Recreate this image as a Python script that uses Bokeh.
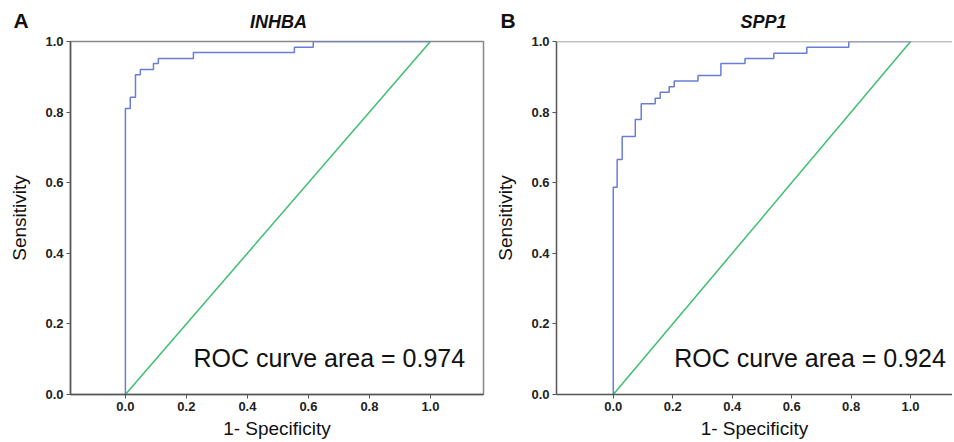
from bokeh.plotting import figure
from bokeh.layouts import row, column
from bokeh.models import Label, Span, FixedTicker, Range1d
from bokeh.core.properties import value
from bokeh.embed import file_html
from bokeh.resources import INLINE

# ---- data ----
inhba_fpr = [0.0, 0.0, 0.016, 0.033, 0.049, 0.092, 0.108, 0.223, 0.554, 0.616, 1.0]
inhba_tpr = [0.0, 0.810, 0.842, 0.906, 0.921, 0.938, 0.952, 0.969, 0.984, 1.0, 1.0]
inhba_auc = 0.974

spp1_fpr = [0.0, 0.0, 0.013, 0.030, 0.074, 0.094, 0.141, 0.158, 0.188, 0.205,
            0.285, 0.362, 0.443, 0.540, 0.651, 0.792, 1.0]
spp1_tpr = [0.0, 0.587, 0.666, 0.731, 0.779, 0.824, 0.839, 0.856, 0.872, 0.888,
            0.904, 0.938, 0.952, 0.967, 0.984, 1.0, 1.0]
spp1_auc = 0.924

ref_x = [0.0, 1.0]
ref_y = [0.0, 1.0]
ticks = [0.0, 0.2, 0.4, 0.6, 0.8, 1.0]
tick_labels = {t: f"{t:.1f}" for t in ticks}

FONT = "Liberation Sans"
BLUE = "#6a7dd6"
GREEN = "#3cbf6e"
AXIS = "#555555"
HEAD_H = 31


def staircase(fx, ty):
    xs, ys = [fx[0]], [ty[0]]
    for i in range(1, len(fx)):
        xs += [fx[i], fx[i]]
        ys += [ty[i - 1], ty[i]]
    return xs, ys


def header(letter, gene, width, letter_x, gene_x):
    h = figure(width=width, height=HEAD_H, x_range=Range1d(0, width), y_range=Range1d(0, HEAD_H),
               output_backend="svg", toolbar_location=None, title=None,
               x_axis_location=None, y_axis_location=None,
               min_border_left=0, min_border_right=0, min_border_top=0, min_border_bottom=0)
    h.grid.visible = False
    h.outline_line_color = None
    h.text(x=[letter_x], y=[HEAD_H - 20], text=[letter], text_baseline="middle",
           text_font=value(FONT), text_font_size="21px", text_font_style="bold", text_color="#111111")
    h.text(x=[gene_x], y=[HEAD_H - 21], text=[gene], text_align="center", text_baseline="middle",
           text_font=value(FONT), text_font_size="18px", text_font_style="bold italic", text_color="#111111")
    return h


def panel(fpr, tpr, auc, width, bl, br, x0, x1, full_box, text_x):
    p = figure(width=width, height=410, x_range=Range1d(x0, x1), y_range=Range1d(0, 1),
               output_backend="svg", toolbar_location=None, title=None,
               min_border_left=bl, min_border_right=br, min_border_top=10, min_border_bottom=47)
    p.grid.visible = False
    if full_box:
        p.outline_line_color = "#888888"
        p.outline_line_width = 1.5
    else:
        p.outline_line_color = None
        p.add_layout(Span(location=1.0, dimension="width", line_color="#888888", line_width=1.5))

    for ax in (p.xaxis[0], p.yaxis[0]):
        ax.ticker = FixedTicker(ticks=ticks)
        ax.major_label_overrides = tick_labels
        ax.minor_tick_line_color = None
        ax.major_tick_in = 0
        ax.major_tick_out = 4
        ax.major_tick_line_color = AXIS
        ax.axis_line_color = AXIS
        ax.axis_line_width = 1.5
        ax.major_label_text_font = FONT
        ax.major_label_text_font_style = "bold"
        ax.major_label_text_font_size = "13px"
        ax.major_label_text_color = "#222222"
        ax.axis_label_text_font = FONT
        ax.axis_label_text_font_style = "normal"
        ax.axis_label_text_font_size = "19px"
        ax.axis_label_text_color = "#111111"
    p.xaxis.axis_label = "1- Specificity"
    p.yaxis.axis_label = "Sensitivity"
    p.xaxis.major_label_standoff = 3
    p.xaxis.axis_label_standoff = 4
    p.yaxis.major_label_standoff = 3
    p.yaxis.axis_label_standoff = 12

    p.line(ref_x, ref_y, line_color=GREEN, line_width=1.5)
    xs, ys = staircase(fpr, tpr)
    p.line(xs, ys, line_color=BLUE, line_width=1.5)

    p.add_layout(Label(x=text_x, y=0.102, text=f"ROC curve area = {auc}", text_baseline="middle",
                       text_font=FONT, text_font_size="25px", text_color="#111111"))
    return p


ha = header("A", "INHBA", 492, 13, 278)
hb = header("B", "SPP1", 460, 8, 271)
pa = panel(inhba_fpr, inhba_tpr, inhba_auc, 492, 70, 9, -0.18, 1.174, True, 0.223)
pb = panel(spp1_fpr, spp1_tpr, spp1_auc, 460, 63, 0, -0.191, 1.141, False, 0.205)

layout = column(row(ha, hb), row(pa, pb))
open("out.html", "w").write(file_html(layout, INLINE))
